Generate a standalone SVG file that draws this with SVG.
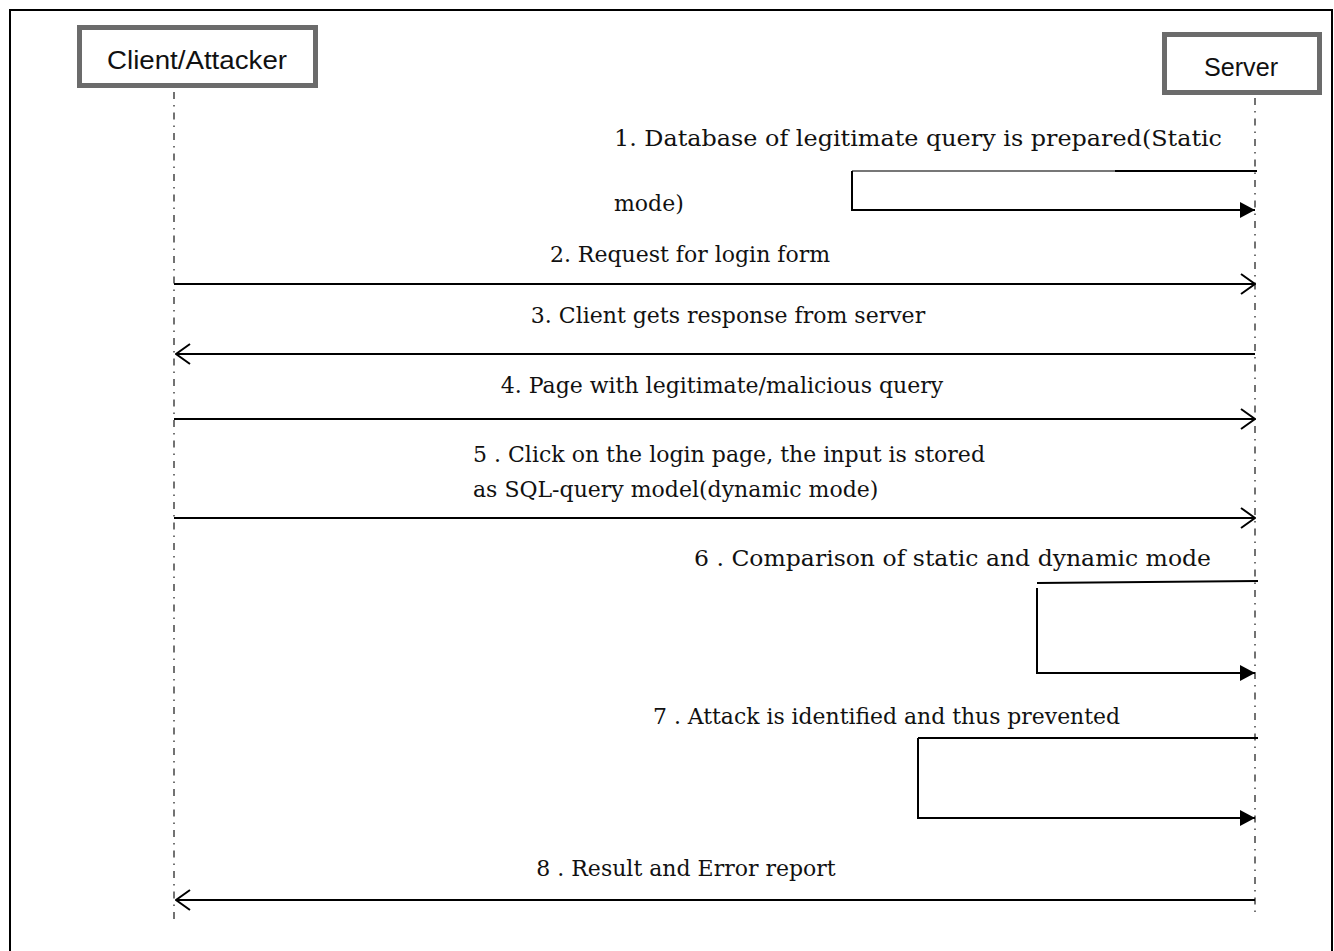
<svg xmlns="http://www.w3.org/2000/svg" width="1334" height="951" viewBox="0 0 1334 951">
  <style>
    .box { fill: #ffffff; stroke: #6b6b6b; stroke-width: 5; }
    .actor { font-family: "Liberation Sans", "Open Sans", sans-serif; font-size: 25px; fill: #111111; }
    .life { stroke: #444444; stroke-width: 1.5; stroke-dasharray: 7 6 1.5 6; fill: none; }
    .msg { stroke: #000000; stroke-width: 2; fill: none; }
    .lbl { font-family: "DejaVu Serif", "Liberation Serif", serif; font-size: 22px; fill: #111111; }
    .mid { text-anchor: middle; }
  </style>
  <defs>
    <marker id="open" viewBox="0 0 16 22" refX="15" refY="11" markerWidth="16" markerHeight="22" markerUnits="userSpaceOnUse" orient="auto">
      <path d="M1,1 L15,11 L1,21" fill="none" stroke="#000" stroke-width="2"/>
    </marker>
    <marker id="solid" viewBox="0 0 15 16" refX="15" refY="8" markerWidth="15" markerHeight="16" markerUnits="userSpaceOnUse" orient="auto">
      <path d="M0,0 L15,8 L0,16 Z" fill="#000"/>
    </marker>
  </defs>

  <rect width="1334" height="951" fill="#ffffff"/>
  <!-- page frame -->
  <rect x="10" y="10" width="1322" height="960" fill="none" stroke="#000" stroke-width="2"/>

  <g id="client">
    <rect class="box" x="79.5" y="27.5" width="236" height="58"/>
    <text class="actor" x="197" y="69" text-anchor="middle" textLength="180" lengthAdjust="spacingAndGlyphs">Client/Attacker</text>
    <line class="life" x1="174" y1="92" x2="174" y2="925"/>
  </g>

  <g id="server">
    <rect class="box" x="1164.5" y="34.5" width="155" height="58"/>
    <text class="actor" x="1241" y="76" text-anchor="middle" textLength="74" lengthAdjust="spacingAndGlyphs">Server</text>
    <line class="life" x1="1255" y1="98" x2="1255" y2="918"/>
  </g>

  <g id="connectors">
    <!-- 1: self call on server -->
    <line x1="852" y1="171" x2="1115" y2="171" stroke="#777" stroke-width="2"/>
    <line class="msg" x1="1115" y1="171" x2="1257" y2="171"/>
    <polyline class="msg" points="852,171 852,210 1255,210" marker-end="url(#solid)"/>
    <!-- 2 -->
    <line class="msg" x1="174" y1="284" x2="1255" y2="284" marker-end="url(#open)"/>
    <!-- 3 -->
    <line class="msg" x1="1255" y1="354" x2="176" y2="354" marker-end="url(#open)"/>
    <!-- 4 -->
    <line class="msg" x1="174" y1="419" x2="1255" y2="419" marker-end="url(#open)"/>
    <!-- 5 -->
    <line class="msg" x1="174" y1="518" x2="1255" y2="518" marker-end="url(#open)"/>
    <!-- 6: self call on server -->
    <line class="msg" x1="1037" y1="583" x2="1258" y2="581"/>
    <polyline class="msg" points="1037,588 1037,673 1255,673" marker-end="url(#solid)"/>
    <!-- 7: self call on server -->
    <line class="msg" x1="918" y1="738" x2="1258" y2="738"/>
    <polyline class="msg" points="918,738 918,818 1255,818" marker-end="url(#solid)"/>
    <!-- 8 -->
    <line class="msg" x1="1255" y1="900" x2="176" y2="900" marker-end="url(#open)"/>
  </g>

  <g id="labels">
    <text class="lbl" x="614" y="146" textLength="608" lengthAdjust="spacingAndGlyphs">1. Database of legitimate query is prepared(Static</text>
    <text class="lbl" x="614" y="211">mode)</text>
    <text class="lbl mid" x="690" y="262">2. Request for login form</text>
    <text class="lbl mid" x="728" y="323">3. Client gets response from server</text>
    <text class="lbl mid" x="722" y="393">4. Page with legitimate/malicious query</text>
    <text class="lbl" x="473" y="462" textLength="512" lengthAdjust="spacingAndGlyphs">5 . Click on the login page, the input is stored</text>
    <text class="lbl" x="473" y="497">as SQL-query model(dynamic mode)</text>
    <text class="lbl" x="694" y="566" textLength="517" lengthAdjust="spacingAndGlyphs">6 . Comparison of static and dynamic mode</text>
    <text class="lbl" x="653" y="724" textLength="467" lengthAdjust="spacingAndGlyphs">7 . Attack is identified and thus prevented</text>
    <text class="lbl mid" x="686" y="876">8 . Result and Error report</text>
  </g>
</svg>
